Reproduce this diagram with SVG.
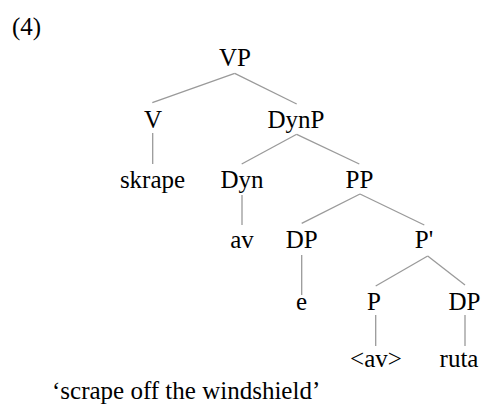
<svg xmlns="http://www.w3.org/2000/svg" width="487" height="405" viewBox="0 0 487 405">
<style>
.lbl{font-family:'Liberation Serif','Times New Roman',serif;font-size:25px;fill:#000}
.n{text-anchor:middle}
</style>
<rect width="487" height="405" fill="#fff"/>
<g id="edges" stroke="#9a9a9a" stroke-width="1.3" fill="none">
<line x1="234.7" y1="73.3" x2="152.3" y2="102.7"/>
<line x1="234.7" y1="73.3" x2="296.7" y2="104"/>
<line x1="152.7" y1="133" x2="152.7" y2="164"/>
<line x1="296.7" y1="134.3" x2="241.7" y2="164"/>
<line x1="296.7" y1="134.3" x2="359.3" y2="164"/>
<line x1="242" y1="195" x2="242" y2="225"/>
<line x1="360" y1="194" x2="301.7" y2="223.3"/>
<line x1="360" y1="194" x2="424.3" y2="225"/>
<line x1="301.7" y1="255" x2="301.7" y2="295"/>
<line x1="427.7" y1="256" x2="375.7" y2="286"/>
<line x1="427.7" y1="256" x2="465" y2="285"/>
<line x1="375.7" y1="315" x2="375.7" y2="346"/>
<line x1="465" y1="315" x2="465" y2="346"/>
</g>
<g font-family="Liberation Serif, serif" font-size="25" fill="#000">
<text class="lbl" x="12" y="35">(4)</text>
<g text-anchor="middle">
<g id="VP"><text class="lbl n" x="235" y="66">VP</text></g>
<g id="V"><text class="lbl n" x="153" y="127.5">V</text></g>
<g id="DynP"><text class="lbl n" x="296" y="127.5">DynP</text></g>
<g id="skrape"><text class="lbl n" x="152.5" y="188">skrape</text></g>
<g id="Dyn"><text class="lbl n" x="242" y="188">Dyn</text></g>
<g id="PP"><text class="lbl n" x="359.5" y="188">PP</text></g>
<g id="av"><text class="lbl n" x="242" y="248">av</text></g>
<g id="DP1"><text class="lbl n" x="301.7" y="248">DP</text></g>
<g id="Pbar"><text class="lbl n" x="424" y="248">P'</text></g>
<g id="e"><text class="lbl n" x="301.5" y="310">e</text></g>
<g id="P"><text class="lbl n" x="374" y="310">P</text></g>
<g id="DP2"><text class="lbl n" x="464.5" y="310">DP</text></g>
<g id="avtrace"><text class="lbl n" x="376" y="367">&lt;av&gt;</text></g>
<g id="ruta"><text class="lbl n" x="459" y="367">ruta</text></g>
</g>
<text class="lbl" x="52" y="399">‘scrape off the windshield’</text>
</g>
</svg>
